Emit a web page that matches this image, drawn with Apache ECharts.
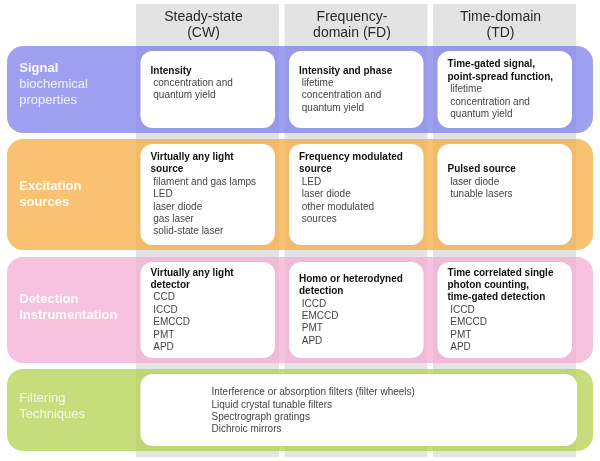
<!DOCTYPE html>
<html>
<head>
<meta charset="utf-8">
<script src="https://cdn.jsdelivr.net/npm/echarts@6/dist/echarts.min.js"></script>
<style>html,body{margin:0;padding:0;background:#fff;}#c{width:600px;height:461px;}</style>
</head>
<body>
<div id="c"></div>
<script>
// ---------- content ----------
const columns = ['Steady-state\n(CW)', 'Frequency-\ndomain (FD)', 'Time-domain\n(TD)'];
const rows = ['Signal biochemical properties', 'Excitation sources', 'Detection Instrumentation', 'Filtering Techniques'];
const rowBold = ['Signal', 'Excitation\nsources', 'Detection\nInstrumentation', ''];
const rowPlain = ['biochemical\nproperties', '', '', 'Filtering\nTechniques'];

const signalTitles = ['Intensity', 'Intensity and phase', 'Time-gated signal,\npoint-spread function,'];
const signalItems = [
  ['concentration and', 'quantum yield', ''],
  ['lifetime', 'concentration and', 'quantum yield'],
  ['lifetime', 'concentration and', 'quantum yield']
];
const excitationTitles = ['Virtually any light\nsource', 'Frequency modulated\nsource', 'Pulsed source'];
const excitationItems = [
  ['filament and gas lamps', 'LED', 'laser diode', 'gas laser', 'solid-state laser'],
  ['LED', 'laser diode', 'other modulated', 'sources', ''],
  ['laser diode', 'tunable lasers', '', '']
];
const detectionTitles = ['Virtually any light\ndetector', 'Homo or heterodyned\ndetection', 'Time correlated single\nphoton counting,\ntime-gated detection'];
const detectionItems = [
  ['CCD', 'ICCD', 'EMCCD', 'PMT', 'APD'],
  ['ICCD', 'EMCCD', 'PMT', 'APD'],
  ['ICCD', 'EMCCD', 'PMT', 'APD']
];
const filteringItems = ['Interference or absorption filters (filter wheels)', 'Liquid crystal tunable filters', 'Spectrograph gratings', 'Dichroic mirrors'];

// ---------- layout / style (not data) ----------
const FONT = 'Arial, "Liberation Sans", sans-serif';
const gridLeft = 133.25, gridRight = 21.25;
const rowGridBox = [[46, 87], [139, 111], [257, 106], [369, 82]];
const labelLift = [10, 0, 6, 8];
const bandColors = ['rgba(128,128,235,0.75)', 'rgba(246,174,67,0.75)', 'rgba(244,174,211,0.75)', 'rgba(178,210,78,0.75)'];
const LH = 12.4;

const rowTitles = [signalTitles, excitationTitles, detectionTitles, null];
const rowItems = [signalItems, excitationItems, detectionItems, null];

function cellText(title, items) {
  const parts = [];
  if (title) title.split('\n').forEach(t => parts.push('{b|' + t + '}'));
  items.forEach(t => parts.push('{i| ' + (t || ' ') + '}'));
  return parts.join('\n');
}
const richCell = {
  b: { fontFamily: FONT, fontSize: 10, fontWeight: 'bold', fill: '#111', lineHeight: LH },
  i: { fontFamily: FONT, fontSize: 10, fill: '#444', lineHeight: LH }
};

const grids = [{ left: gridLeft, right: gridRight, top: 4, bottom: 4 }];
const xAxes = [{
  type: 'category', gridIndex: 0, data: columns, position: 'top', z: 10,
  axisLine: { show: false }, axisTick: { show: false },
  axisLabel: { inside: true, margin: 5, fontFamily: FONT, fontSize: 14, lineHeight: 16, color: '#2a2a2a', padding: [0, 8, 0, 0] }
}];
const yAxes = [{ type: 'value', gridIndex: 0, min: 0, max: 1, show: false }];
const series = [{
  type: 'bar', xAxisIndex: 0, yAxisIndex: 0, data: columns.map(() => 1),
  barCategoryGap: '3.7%', itemStyle: { color: '#e3e3e3' }, silent: true, z: 1
}];

rows.forEach((row, r) => {
  const gi = r + 1;
  grids.push({ left: gridLeft, right: gridRight, top: rowGridBox[r][0], height: rowGridBox[r][1] });
  xAxes.push({ type: 'category', gridIndex: gi, data: columns, show: false });
  yAxes.push({
    type: 'category', gridIndex: gi, data: [row], z: 10,
    axisLine: { show: false }, axisTick: { show: false }, splitLine: { show: false },
    axisLabel: {
      align: 'left', margin: 114, padding: [0, 0, labelLift[r], 0],
      formatter: () => {
        const p = [];
        if (rowBold[r]) rowBold[r].split('\n').forEach(t => p.push('{b|' + t + '}'));
        if (rowPlain[r]) rowPlain[r].split('\n').forEach(t => p.push('{p|' + t + '}'));
        return p.join('\n');
      },
      rich: {
        b: { fontFamily: FONT, fontSize: 13, fontWeight: 'bold', lineHeight: 16, color: 'rgba(255,255,255,0.93)' },
        p: { fontFamily: FONT, fontSize: 13, lineHeight: 16, color: 'rgba(255,255,255,0.85)' }
      }
    }
  });
  // row band
  series.push({
    type: 'custom', xAxisIndex: gi, yAxisIndex: gi, z: 2, silent: true,
    data: [[1, 0]],
    renderItem: (params, api) => {
      const c = api.coord([api.value(0), api.value(1)]);
      const bh = api.size([0, 1])[1];
      const cs = params.coordSys;
      const x0 = cs.x - 126.25, x1 = cs.x + cs.width + 14.25;
      return { type: 'rect', shape: { x: x0, y: c[1] - bh / 2, width: x1 - x0, height: bh, r: 16 }, style: { fill: bandColors[r] } };
    }
  });
  // cells
  const isSpan = !rowTitles[r];
  series.push({
    type: 'custom', xAxisIndex: gi, yAxisIndex: gi, z: 3, silent: true,
    data: isSpan ? [[0, 0]] : columns.map((c, j) => [j, 0]),
    renderItem: (params, api) => {
      const j = api.value(0);
      const c = api.coord([j, api.value(1)]);
      const bw = api.size([1, 0])[0] * 0.963;
      const bh = api.size([0, 1])[1];
      const x0 = c[0] - bw / 2 + 4.5;
      let x1 = c[0] + bw / 2 - 4;
      if (isSpan) x1 = api.coord([columns.length - 1, 0])[0] + bw / 2 + 1;
      const y0 = c[1] - bh / 2 + 5, h = bh - 10;
      const text = isSpan
        ? filteringItems.map(t => '{i|' + t + '}').join('\n')
        : cellText(rowTitles[r][params.dataIndex], rowItems[r][params.dataIndex]);
      return {
        type: 'group',
        children: [
          { type: 'rect', shape: { x: x0, y: y0, width: x1 - x0, height: h, r: 12 }, style: { fill: '#ffffff' } },
          { type: 'text', x: isSpan ? x0 + 71 : x0 + 10, y: c[1] + (isSpan ? 1 : 0), style: { text: text, rich: richCell, verticalAlign: 'middle', align: 'left', fontFamily: FONT, fontSize: 10 } }
        ]
      };
    }
  });
});

const chart = echarts.init(document.getElementById('c'), null, { renderer: 'canvas' });
chart.setOption({
  animation: false,
  backgroundColor: '#ffffff',
  grid: grids,
  xAxis: xAxes,
  yAxis: yAxes,
  series: series
});
</script>
</body>
</html>
